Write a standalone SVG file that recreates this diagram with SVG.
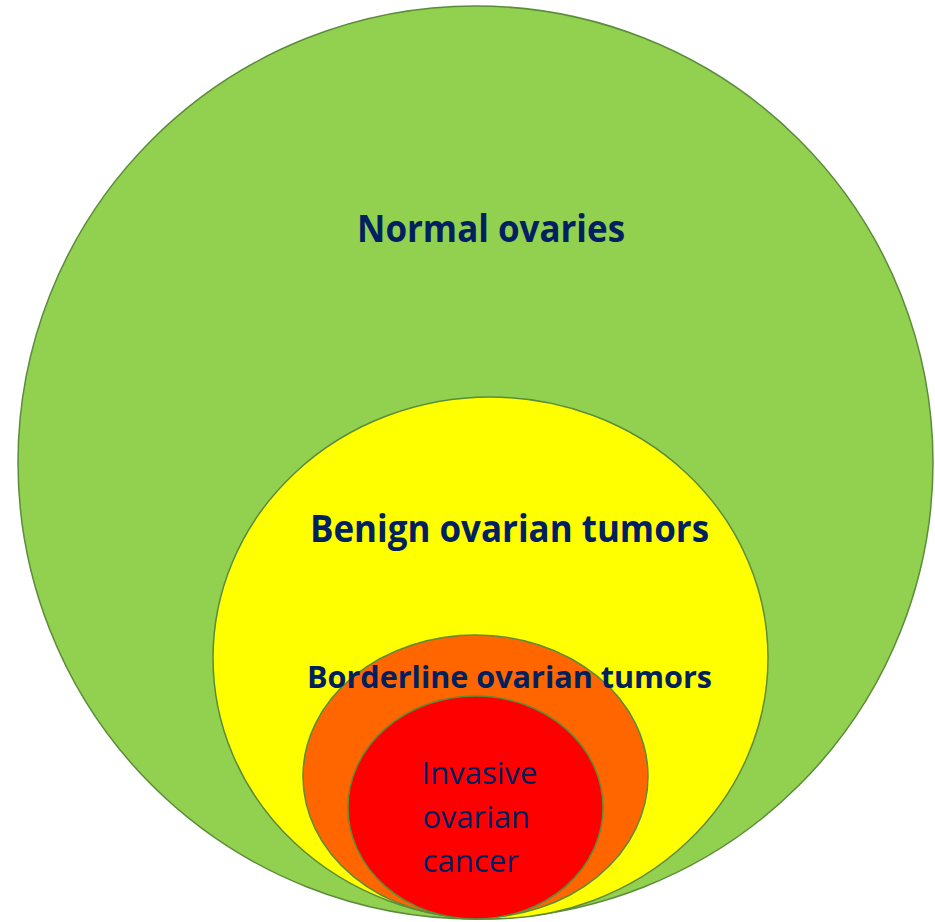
<svg xmlns="http://www.w3.org/2000/svg" width="935" height="922" viewBox="0 0 935 922">
<style>
.ring{stroke:#5B8C3A;stroke-width:1.5}
.lbl{font-family:"Open Sans","Noto Sans","Liberation Sans",sans-serif;fill:#002060}
.b{font-weight:700}
</style>
<rect width="935" height="922" fill="#FFFFFF"/>
<g id="normal">
<ellipse class="ring" cx="475.5" cy="462.5" rx="457.5" ry="456.5" fill="#92D050"/>
<text class="lbl b" x="357" y="242" font-size="38" textLength="268" lengthAdjust="spacingAndGlyphs">Normal ovaries</text>
</g>
<g id="benign">
<ellipse class="ring" cx="490.5" cy="658" rx="277.5" ry="261" fill="#FFFF00"/>
<text class="lbl b" x="310" y="542" font-size="38" textLength="399" lengthAdjust="spacingAndGlyphs">Benign ovarian tumors</text>
</g>
<g id="borderline">
<ellipse class="ring" cx="475.5" cy="776.5" rx="172.5" ry="141.5" fill="#FF6600"/>
</g>
<g id="invasive">
<ellipse class="ring" cx="475.5" cy="807.5" rx="127.5" ry="111.5" fill="#FF0000"/>
<text class="lbl" x="421.5" y="784.3" font-size="31" textLength="116" lengthAdjust="spacingAndGlyphs">Invasive</text>
<text class="lbl" x="422.5" y="828.3" font-size="31" textLength="107.5" lengthAdjust="spacingAndGlyphs">ovarian</text>
<text class="lbl" x="422.5" y="871.7" font-size="31" textLength="96.5" lengthAdjust="spacingAndGlyphs">cancer</text>
</g>
<g id="borderline-label">
<text class="lbl b" x="307" y="688" font-size="31" textLength="405" lengthAdjust="spacingAndGlyphs">Borderline ovarian tumors</text>
</g>
<g id="connectors"></g>
</svg>
